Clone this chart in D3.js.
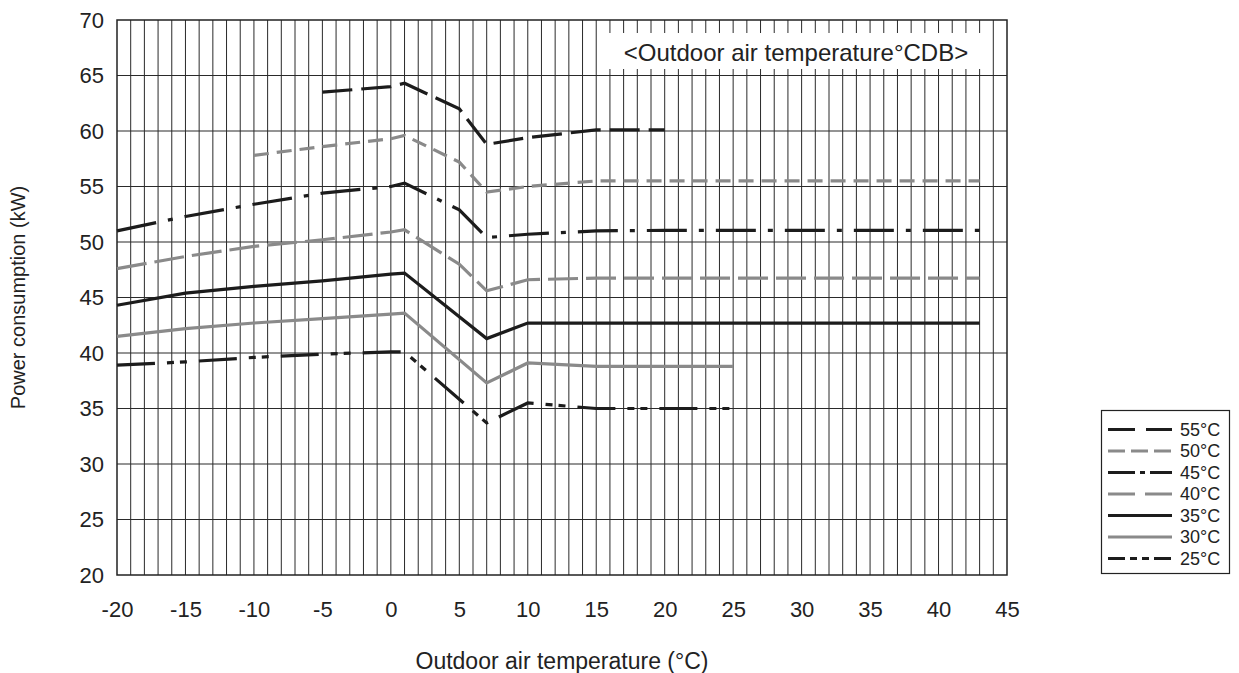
<!DOCTYPE html>
<html>
<head>
<meta charset="utf-8">
<script src="https://cdn.jsdelivr.net/npm/d3@7"></script>
<style>
  html, body { margin: 0; padding: 0; background: #fff; }
  svg { display: block; font-family: "Liberation Sans", Arial, sans-serif; }
</style>
</head>
<body>
<svg id="chart" width="1239" height="673"></svg>
<script>
// ---- data ----
const outdoorTemps = [-20, -15, -10, -5, 0, 1, 5, 7, 10, 15, 20, 25, 30, 35, 40, 43];
const series55 = [null, null, null, 63.5, 64.0, 64.3, 62.0, 58.8, 59.4, 60.1, 60.1, null, null, null, null, null];
const series50 = [null, null, 57.8, 58.6, 59.3, 59.6, 57.2, 54.5, 55.0, 55.5, 55.5, 55.5, 55.5, 55.5, 55.5, 55.5];
const series45 = [51.0, 52.3, 53.4, 54.4, 55.0, 55.3, 52.9, 50.4, 50.7, 51.0, 51.05, 51.05, 51.05, 51.05, 51.05, 51.05];
const series40 = [47.6, 48.7, 49.6, 50.2, 50.9, 51.1, 48.0, 45.6, 46.6, 46.75, 46.75, 46.75, 46.75, 46.75, 46.75, 46.75];
const series35 = [44.3, 45.4, 46.0, 46.5, 47.1, 47.2, null, 41.3, 42.7, 42.7, 42.7, 42.7, 42.7, 42.7, 42.7, 42.7];
const series30 = [41.5, 42.2, 42.7, 43.1, 43.5, 43.6, null, 37.3, 39.1, 38.8, 38.8, 38.8, null, null, null, null];
const series25 = [38.9, 39.2, 39.6, 39.9, 40.1, 40.1, null, 33.7, 35.5, 35.0, 35.0, 35.0, null, null, null, null];
const seriesNames = ["55°C", "50°C", "45°C", "40°C", "35°C", "30°C", "25°C"];
const xTickValues = [-20, -15, -10, -5, 0, 5, 10, 15, 20, 25, 30, 35, 40, 45];
const yTickValues = [20, 25, 30, 35, 40, 45, 50, 55, 60, 65, 70];
const annotationText = "<Outdoor air temperature°CDB>";
const xTitle = "Outdoor air temperature (°C)";
const yTitle = "Power consumption (kW)";

// ---- styles ----
const BLACK = "#1c1c1c", GRAY = "#8a8a8a";
const styles = [
  { color: BLACK, dash: "30,9",              legendDash: "27,11" },
  { color: GRAY,  dash: "15,8",              legendDash: "17,6" },
  { color: BLACK, dash: "40,12,5,12",        legendDash: "27,5,5,5" },
  { color: GRAY,  dash: "30,8",              legendDash: "27,10" },
  { color: BLACK, dash: null,                legendDash: null },
  { color: GRAY,  dash: null,                legendDash: null },
  { color: BLACK, dash: "38,12,7,6,7,12",    legendDash: "17,5,7,5,7,5" }
];
const allSeries = [series55, series50, series45, series40, series35, series30, series25];

const svg = d3.select("#chart");
const x = d3.scaleLinear().domain([-20, 45]).range([117, 1007]);
const y = d3.scaleLinear().domain([20, 70]).range([575, 20]);

// grid - vertical every 1 degree
const g = svg.append("g");
g.selectAll("line.vg").data(d3.range(-19, 45)).enter().append("line")
  .attr("x1", d => x(d)).attr("x2", d => x(d))
  .attr("y1", y(70)).attr("y2", y(20))
  .attr("stroke", "#2a2a2a").attr("stroke-width", 1);
// horizontal every 5
g.selectAll("line.hg").data(yTickValues.slice(1, -1)).enter().append("line")
  .attr("x1", x(-20)).attr("x2", x(45))
  .attr("y1", d => y(d)).attr("y2", d => y(d))
  .attr("stroke", "#2a2a2a").attr("stroke-width", 1.2);

// annotation box
svg.append("rect").attr("x", 608).attr("y", 33).attr("width", 378).attr("height", 36).attr("fill", "#fff");
svg.append("text").attr("x", 796).attr("y", 52).attr("text-anchor", "middle")
  .attr("dominant-baseline", "central").attr("font-size", 24).attr("fill", "#222")
  .text(annotationText);

// border
svg.append("rect").attr("x", x(-20)).attr("y", y(70))
  .attr("width", x(45) - x(-20)).attr("height", y(20) - y(70))
  .attr("fill", "none").attr("stroke", "#222").attr("stroke-width", 1.5);

// axes
const fmt = d => String(d);
const xAxis = d3.axisBottom(x).tickValues(xTickValues).tickFormat(fmt).tickSize(0).tickPadding(26);
const yAxis = d3.axisLeft(y).tickValues(yTickValues).tickFormat(fmt).tickSize(0).tickPadding(13);
const gx = svg.append("g").attr("transform", `translate(0,${y(20)})`).call(xAxis);
const gy = svg.append("g").attr("transform", `translate(${x(-20)},0)`).call(yAxis);
[gx, gy].forEach(a => {
  a.select(".domain").remove();
  a.selectAll("text").attr("font-size", 22).attr("fill", "#222")
    .attr("font-family", "Liberation Sans, Arial, sans-serif");
});
gx.selectAll("text").attr("dy", null).attr("dominant-baseline", "central").attr("y", 34);

// titles
svg.append("text").attr("transform", `translate(18,${(y(20) + y(70)) / 2}) rotate(-90)`)
  .attr("text-anchor", "middle").attr("dominant-baseline", "central")
  .attr("font-size", 20).attr("fill", "#222").text(yTitle);
svg.append("text").attr("x", (x(-20) + x(45)) / 2).attr("y", 661)
  .attr("text-anchor", "middle").attr("dominant-baseline", "central")
  .attr("font-size", 23).attr("fill", "#222").text(xTitle);

// lines
const line = d3.line().x(d => x(d[0])).y(d => y(d[1]));
allSeries.forEach((vals, i) => {
  const pts = outdoorTemps.map((t, k) => [t, vals[k]]).filter(d => d[1] != null);
  svg.append("path").datum(pts).attr("d", line)
    .attr("fill", "none").attr("stroke", styles[i].color).attr("stroke-width", 3.2)
    .attr("stroke-dasharray", styles[i].dash).attr("stroke-linejoin", "miter");
});

// legend
const lg = svg.append("g");
lg.append("rect").attr("x", 1101.5).attr("y", 410.5).attr("width", 128).attr("height", 163)
  .attr("fill", "#fff").attr("stroke", "#222").attr("stroke-width", 1.2);
seriesNames.forEach((name, i) => {
  const cy = 429.5 + i * 21.5;
  lg.append("line").attr("x1", 1108).attr("x2", 1172).attr("y1", cy).attr("y2", cy)
    .attr("stroke", styles[i].color).attr("stroke-width", 3.2)
    .attr("stroke-dasharray", styles[i].legendDash);
  lg.append("text").attr("x", 1180).attr("y", cy).attr("dominant-baseline", "central")
    .attr("font-size", 18).attr("fill", "#222").text(name);
});
</script>
</body>
</html>
